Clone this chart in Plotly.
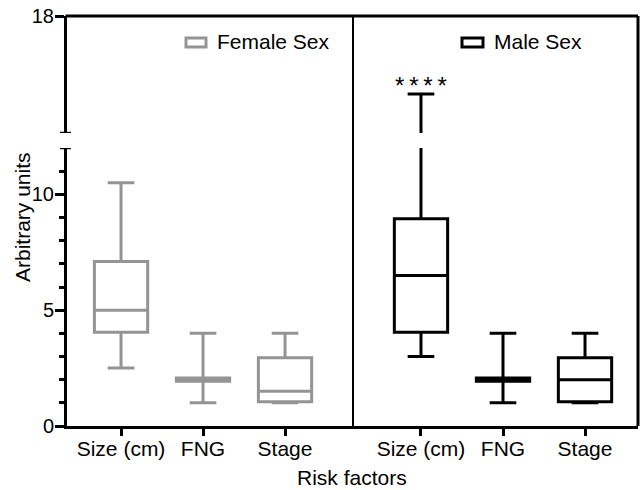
import plotly.graph_objects as go

# ---------------- data ----------------
categories = ["Size (cm)", "FNG", "Stage"]

female_min = [2.5, 1.0, 1.0]
female_q1 = [4.05, 1.93, 1.05]
female_median = [5.0, 2.0, 1.5]
female_q3 = [7.1, 2.07, 2.95]
female_max = [10.5, 4.0, 4.0]

male_min = [3.0, 1.0, 1.0]
male_q1 = [4.05, 1.93, 1.05]
male_median = [6.5, 2.0, 2.0]
male_q3 = [8.95, 2.07, 2.95]
male_max = [14.0, 4.0, 4.0]

lower_ticks = [0, 5, 10]
lower_minor_ticks = [1, 2, 3, 4, 6, 7, 8, 9, 11]
upper_ticks = [18]
lower_range = [0, 12]
upper_range = [12, 18]

significance = "*\u2009*\u2009*\u2009*"

# ---------------- layout geometry ----------------
W, H = 643, 490
L, R, T, B = 67, 5, 16, 64
pw, ph = W - L - R, H - T - B
split = (353 - L) / pw
lower_top = (426 - 148) / ph
upper_bot = (426 - 133) / ph

GRAY = "#949494"
BLACK = "#000000"
FONT = "Liberation Sans, Arial, sans-serif"
FS = 20
XFS = 21

fig = go.Figure()

def add_box(xa, ya, lo, q1, med, q3, hi, color):
    fig.add_trace(go.Box(
        x=categories, q1=q1, median=med, q3=q3,
        lowerfence=lo, upperfence=hi,
        xaxis=xa, yaxis=ya,
        line=dict(color=color, width=3),
        fillcolor="rgba(255,255,255,0)",
        width=0.65, whiskerwidth=0.5,
        boxpoints=False, showlegend=False, hoverinfo="skip",
    ))

for ya in ("y", "y2"):
    add_box("x", ya, female_min, female_q1, female_median, female_q3, female_max, GRAY)
    add_box("x2", ya, male_min, male_q1, male_median, male_q3, male_max, BLACK)

xcommon = dict(
    showline=True, linewidth=3, linecolor=BLACK, ticks="outside",
    ticklen=7, tickwidth=2.5, tickcolor=BLACK, showgrid=False, zeroline=False,
    tickfont=dict(size=XFS, color=BLACK, family=FONT), anchor="y", automargin=False,
    ticklabelstandoff=-5,
)

fig.update_layout(
    width=W, height=H,
    margin=dict(l=L, r=R, t=T, b=B, autoexpand=False),
    paper_bgcolor="white", plot_bgcolor="white",
    font=dict(family=FONT, color=BLACK),
    xaxis=dict(domain=[0, split], range=[-0.659, 2.829], **xcommon),
    xaxis2=dict(domain=[split, 1], range=[-0.829, 2.646], **xcommon),
    yaxis=dict(
        domain=[0, lower_top], range=lower_range, anchor="x", automargin=False,
        showline=True, linewidth=3, linecolor=BLACK,
        tickmode="array", tickvals=lower_ticks,
        ticks="outside", ticklen=9, tickwidth=2.5, tickcolor=BLACK,
        ticklabelstandoff=-3,
        minor=dict(tickmode="array", tickvals=lower_minor_ticks, ticks="outside",
                   ticklen=5, tickwidth=2.5, tickcolor=BLACK),
        showgrid=False, zeroline=False,
        tickfont=dict(size=FS, color=BLACK, family=FONT),
    ),
    yaxis2=dict(
        domain=[upper_bot, 1], range=upper_range, anchor="x", automargin=False,
        showline=True, linewidth=3, linecolor=BLACK,
        tickmode="array", tickvals=upper_ticks,
        ticks="outside", ticklen=9, tickwidth=2.5, tickcolor=BLACK,
        ticklabelstandoff=-3,
        showgrid=False, zeroline=False,
        tickfont=dict(size=FS, color=BLACK, family=FONT),
    ),
)

shapes = []
line = dict(color=BLACK, width=3)
# top border, right border, divider
shapes.append(dict(type="line", xref="paper", yref="paper", x0=-1.5/pw, x1=1, y0=1, y1=1, line=line))
shapes.append(dict(type="line", xref="paper", yref="paper", x0=1, x1=1, y0=0, y1=1, line=line))
shapes.append(dict(type="line", xref="paper", yref="paper", x0=split, x1=split, y0=0, y1=1, line=dict(color=BLACK, width=2)))
# axis break caps
cap = 5.5 / pw
shapes.append(dict(type="line", xref="paper", yref="y", x0=-1.5/pw - cap, x1=-1.5/pw + cap,
                   y0=lower_range[1], y1=lower_range[1], line=dict(color=BLACK, width=2.5)))
shapes.append(dict(type="line", xref="paper", yref="y2", x0=-1.5/pw - cap, x1=-1.5/pw + cap,
                   y0=upper_range[0], y1=upper_range[0], line=dict(color=BLACK, width=2.5)))
# legend symbols
shapes.append(dict(type="rect", xref="paper", yref="paper",
                   x0=(186 - L)/pw, x1=(206 - L)/pw, y0=(426 - 47)/ph, y1=(426 - 38)/ph,
                   line=dict(color=GRAY, width=3), fillcolor="white"))
shapes.append(dict(type="rect", xref="paper", yref="paper",
                   x0=(462 - L)/pw, x1=(483 - L)/pw, y0=(426 - 47)/ph, y1=(426 - 38)/ph,
                   line=dict(color=BLACK, width=3), fillcolor="white"))
fig.update_layout(shapes=shapes)

annotations = [
    dict(text="Female Sex", xref="paper", yref="paper", x=(215 - L)/pw, y=(426 - 42)/ph,
         xanchor="left", yanchor="middle", showarrow=False, font=dict(size=21, color=BLACK)),
    dict(text="Male Sex", xref="paper", yref="paper", x=(492 - L)/pw, y=(426 - 42)/ph,
         xanchor="left", yanchor="middle", showarrow=False, font=dict(size=21, color=BLACK)),
    dict(text="Arbitrary units", xref="paper", yref="paper", x=(22 - L)/pw, y=(426 - 217)/ph,
         xanchor="center", yanchor="middle", textangle=-90, showarrow=False,
         font=dict(size=21, color=BLACK)),
    dict(text="Risk factors", xref="paper", yref="paper", x=(352 - L)/pw, y=(426 - 477)/ph,
         xanchor="center", yanchor="middle", showarrow=False, font=dict(size=21, color=BLACK)),
    dict(text=significance, xref="x2", yref="y2", x=categories[0], y=male_max[0],
         xanchor="center", yanchor="bottom", yshift=-7, showarrow=False,
         font=dict(size=24, color=BLACK)),
]
fig.update_layout(annotations=annotations)

fig.write_html("out.html", config={"displayModeBar": False},
               post_script="document.body.style.margin='0';document.body.style.overflow='hidden';")
